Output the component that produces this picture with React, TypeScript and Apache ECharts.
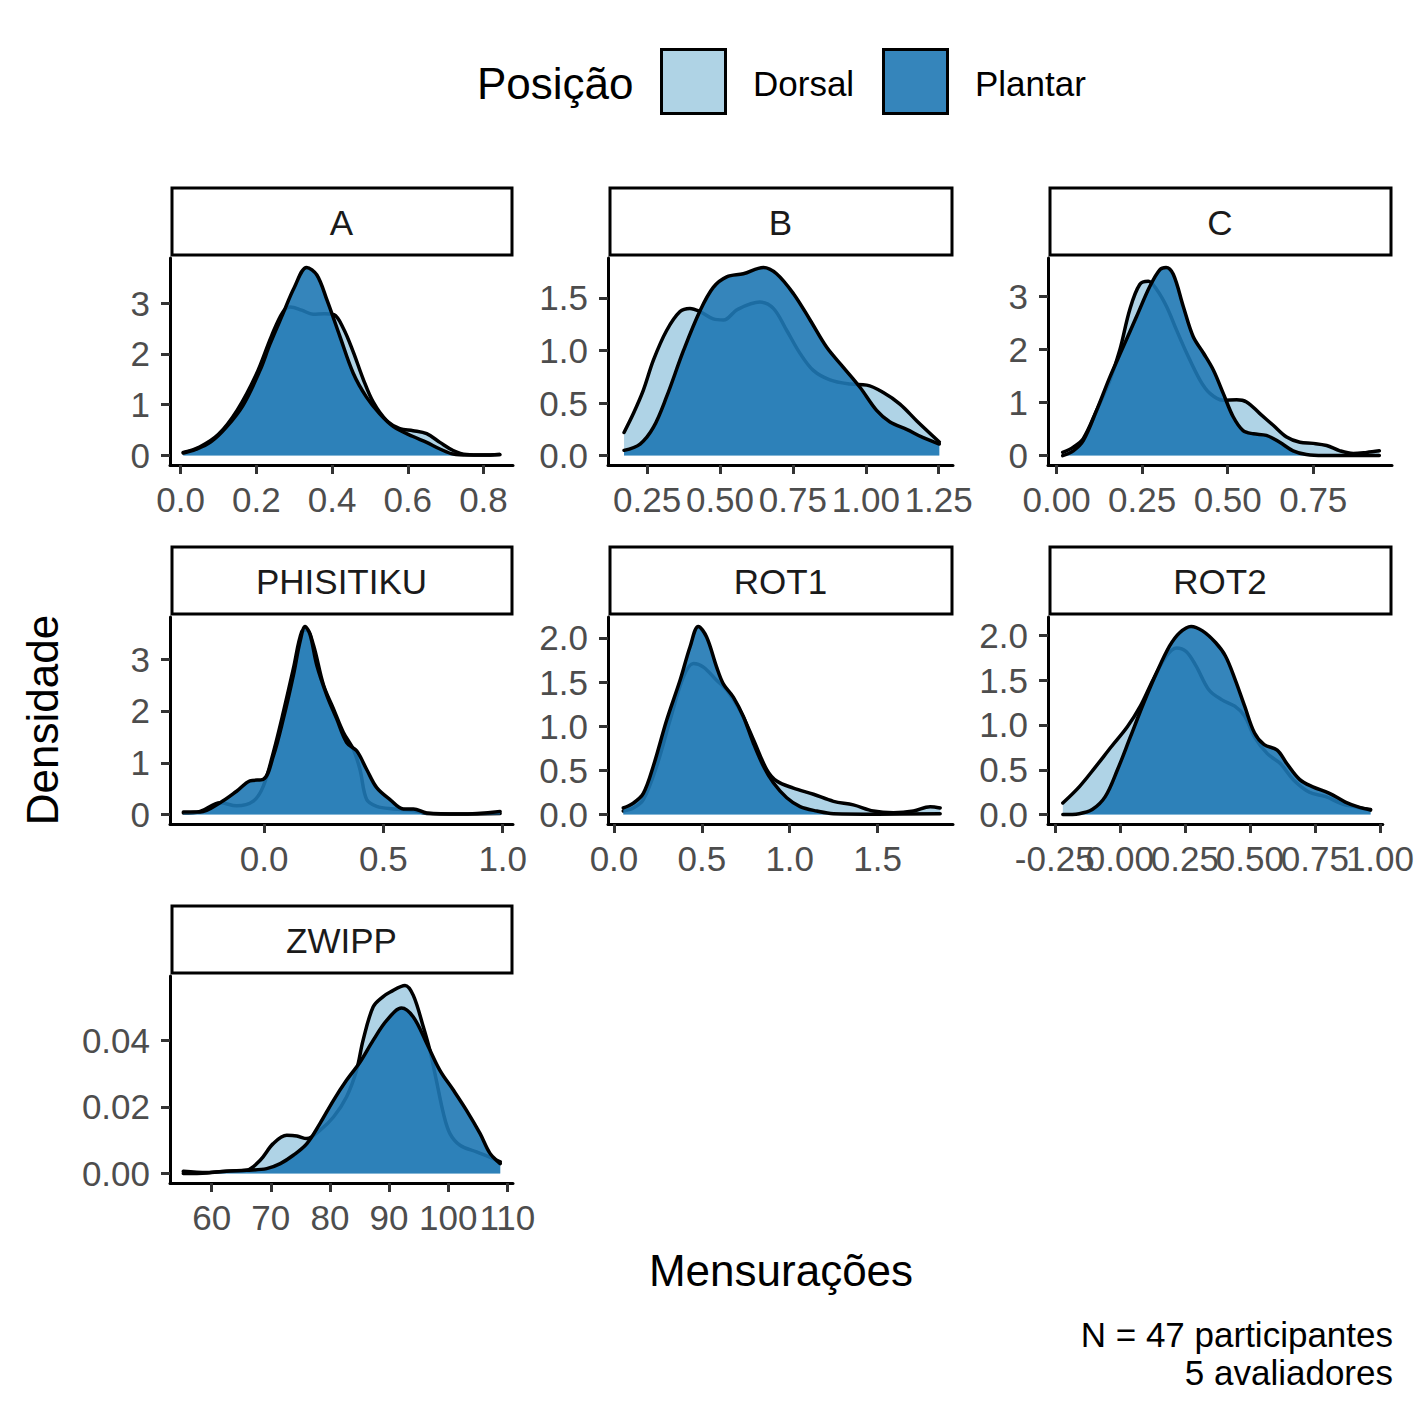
import React, { useEffect, useRef } from 'react';
import * as echarts from 'echarts';

const FONT = '"Liberation Sans", Arial, Helvetica, sans-serif';

const FACETS = ['A', 'B', 'C', 'PHISITIKU', 'ROT1', 'ROT2', 'ZWIPP'];
const GROUPS = ['Dorsal', 'Plantar'];
const GROUP_COLORS = ['#a6cee3', '#1f78b4'];
const LEGEND_TITLE = 'Posição';
const X_TITLE = 'Mensurações';
const Y_TITLE = 'Densidade';
const CAPTION = ['N = 47 participantes', '5 avaliadores'];

// ---- density curves: [x, density] ----
const A_DORSAL = [[0.007,0.06],[0.05,0.17],[0.1,0.42],[0.15,0.9],[0.2,1.6],[0.24,2.35],[0.27,2.82],[0.29,2.92],[0.32,2.86],[0.35,2.78],[0.38,2.79],[0.405,2.77],[0.43,2.5],[0.456,2.04],[0.482,1.51],[0.509,1.05],[0.544,0.69],[0.579,0.53],[0.614,0.49],[0.65,0.43],[0.685,0.26],[0.72,0.1],[0.755,0.02],[0.8,0.01],[0.843,0.02]];
const A_PLANTAR = [[0.007,0.05],[0.04,0.12],[0.08,0.27],[0.121,0.56],[0.165,0.99],[0.21,1.68],[0.236,2.19],[0.271,2.8],[0.3,3.3],[0.333,3.7],[0.36,3.55],[0.387,3.05],[0.421,2.34],[0.456,1.62],[0.491,1.15],[0.526,0.82],[0.562,0.57],[0.614,0.375],[0.65,0.26],[0.685,0.13],[0.72,0.03],[0.76,0.01],[0.8,0.01],[0.843,0.02]];

const B_DORSAL = [[0.171,0.22],[0.203,0.4],[0.237,0.62],[0.272,0.91],[0.317,1.19],[0.363,1.37],[0.397,1.4],[0.432,1.37],[0.477,1.3],[0.512,1.29],[0.56,1.39],[0.637,1.46],[0.683,1.4],[0.729,1.19],[0.775,0.97],[0.82,0.81],[0.877,0.72],[0.946,0.68],[1.003,0.67],[1.06,0.6],[1.117,0.49],[1.175,0.33],[1.252,0.13]];
const B_PLANTAR = [[0.171,0.05],[0.226,0.11],[0.272,0.27],[0.317,0.56],[0.375,1.0],[0.432,1.38],[0.477,1.6],[0.523,1.7],[0.58,1.73],[0.649,1.79],[0.694,1.73],[0.752,1.54],[0.809,1.29],[0.866,1.03],[0.923,0.84],[0.98,0.65],[1.037,0.43],[1.083,0.32],[1.14,0.25],[1.197,0.17],[1.252,0.11]];

const C_DORSAL = [[0.018,0.06],[0.049,0.16],[0.078,0.32],[0.117,0.85],[0.156,1.42],[0.185,1.99],[0.214,2.75],[0.243,3.22],[0.268,3.28],[0.292,3.13],[0.321,2.81],[0.35,2.37],[0.38,1.93],[0.419,1.42],[0.448,1.17],[0.487,1.04],[0.526,1.05],[0.555,1.01],[0.594,0.79],[0.633,0.57],[0.672,0.35],[0.711,0.25],[0.75,0.23],[0.789,0.19],[0.828,0.09],[0.867,0.04],[0.906,0.06],[0.943,0.09]];
const C_PLANTAR = [[0.018,0.0],[0.049,0.09],[0.078,0.28],[0.117,0.85],[0.156,1.48],[0.195,2.05],[0.234,2.62],[0.273,3.19],[0.302,3.5],[0.32,3.54],[0.341,3.41],[0.37,2.81],[0.399,2.24],[0.429,1.93],[0.458,1.61],[0.487,1.17],[0.516,0.73],[0.545,0.47],[0.575,0.41],[0.613,0.38],[0.652,0.25],[0.691,0.09],[0.73,0.02],[0.779,0.0],[0.943,0.0]];

const PHI_DORSAL = [[-0.338,0.03],[-0.268,0.06],[-0.184,0.23],[-0.115,0.17],[-0.045,0.26],[-0.003,0.55],[0.039,1.2],[0.081,1.98],[0.123,2.82],[0.158,3.53],[0.179,3.56],[0.207,3.27],[0.249,2.5],[0.291,2.04],[0.332,1.59],[0.374,1.26],[0.402,0.87],[0.43,0.29],[0.472,0.16],[0.542,0.11],[0.626,0.08],[0.682,0.02],[0.821,0.01],[0.989,0.02]];
const PHI_PLANTAR = [[-0.338,0.05],[-0.268,0.05],[-0.184,0.23],[-0.115,0.45],[-0.059,0.65],[-0.003,0.68],[0.039,1.13],[0.081,1.85],[0.123,2.69],[0.151,3.34],[0.172,3.63],[0.193,3.47],[0.221,2.88],[0.263,2.3],[0.304,1.85],[0.346,1.39],[0.388,1.23],[0.43,0.87],[0.472,0.52],[0.528,0.29],[0.584,0.11],[0.626,0.11],[0.682,0.03],[0.821,0.01],[0.989,0.06]];

const ROT1_DORSAL = [[0.053,0.04],[0.11,0.075],[0.167,0.17],[0.243,0.55],[0.319,1.07],[0.395,1.56],[0.452,1.71],[0.509,1.67],[0.584,1.52],[0.641,1.41],[0.717,1.18],[0.793,0.85],[0.869,0.51],[0.926,0.38],[1.021,0.3],[1.135,0.23],[1.249,0.15],[1.362,0.11],[1.476,0.04],[1.59,0.02],[1.704,0.04],[1.799,0.09],[1.856,0.075]];
const ROT1_PLANTAR = [[0.053,0.075],[0.11,0.13],[0.167,0.24],[0.224,0.55],[0.3,1.07],[0.376,1.52],[0.433,1.9],[0.48,2.13],[0.527,2.01],[0.584,1.67],[0.622,1.48],[0.679,1.33],[0.736,1.11],[0.793,0.81],[0.85,0.55],[0.907,0.36],[0.983,0.19],[1.059,0.09],[1.154,0.04],[1.249,0.01],[1.5,0.005],[1.856,0.01]];

const ROT2_DORSAL = [[-0.219,0.13],[-0.156,0.31],[-0.094,0.53],[-0.032,0.76],[0.029,0.98],[0.079,1.21],[0.129,1.51],[0.179,1.77],[0.218,1.86],[0.255,1.82],[0.293,1.66],[0.343,1.39],[0.393,1.28],[0.442,1.21],[0.48,1.1],[0.517,0.87],[0.567,0.68],[0.617,0.57],[0.667,0.39],[0.729,0.25],[0.792,0.2],[0.854,0.12],[0.916,0.08],[0.964,0.056]];
const ROT2_PLANTAR = [[-0.219,0.0],[-0.156,0.01],[-0.106,0.056],[-0.056,0.2],[-0.009,0.5],[0.041,0.87],[0.091,1.24],[0.141,1.58],[0.191,1.88],[0.23,2.03],[0.274,2.1],[0.318,2.05],[0.368,1.92],[0.406,1.77],[0.443,1.51],[0.48,1.21],[0.518,0.91],[0.555,0.78],[0.605,0.72],[0.642,0.57],[0.692,0.39],[0.742,0.31],[0.804,0.24],[0.867,0.14],[0.916,0.086],[0.964,0.05]];

const ZWIPP_DORSAL = [[55.2,0.0007],[59.2,0.0003],[62.5,0.0007],[65.9,0.001],[68.2,0.004],[70.4,0.009],[72.7,0.0115],[74.4,0.0113],[76.1,0.0105],[78.3,0.013],[80.6,0.017],[82.8,0.023],[84.5,0.031],[85.6,0.04],[87.3,0.05],[88.9,0.053],[90.2,0.0545],[92.7,0.0565],[94.1,0.0535],[95.8,0.044],[96.9,0.037],[98,0.028],[99.2,0.018],[100.3,0.012],[102,0.0085],[104.8,0.0065],[107.6,0.0045],[108.8,0.0035]];
const ZWIPP_PLANTAR = [[55.2,0.0],[59.2,0.0002],[62.5,0.0007],[65.9,0.001],[69.3,0.0015],[71.6,0.003],[73.8,0.0055],[76.1,0.009],[78.3,0.015],[80.6,0.022],[82.8,0.028],[85.1,0.0335],[87.3,0.04],[89.6,0.046],[92.1,0.0497],[94.1,0.047],[96.4,0.039],[98.6,0.031],[100.9,0.025],[103.1,0.019],[105.4,0.012],[107.1,0.006],[108.8,0.003]];

// ---- ticks and labels ----
const A_XTICKS = [0, 0.2, 0.4, 0.6, 0.8];
const A_XLABELS = ['0.0', '0.2', '0.4', '0.6', '0.8'];
const A_YTICKS = [0, 1, 2, 3];
const A_YLABELS = ['0', '1', '2', '3'];
const B_XTICKS = [0.25, 0.5, 0.75, 1.0, 1.25];
const B_XLABELS = ['0.25', '0.50', '0.75', '1.00', '1.25'];
const B_YTICKS = [0, 0.5, 1.0, 1.5];
const B_YLABELS = ['0.0', '0.5', '1.0', '1.5'];
const C_XTICKS = [0, 0.25, 0.5, 0.75];
const C_XLABELS = ['0.00', '0.25', '0.50', '0.75'];
const C_YTICKS = [0, 1, 2, 3];
const C_YLABELS = ['0', '1', '2', '3'];
const PHI_XTICKS = [0, 0.5, 1.0];
const PHI_XLABELS = ['0.0', '0.5', '1.0'];
const PHI_YTICKS = [0, 1, 2, 3];
const PHI_YLABELS = ['0', '1', '2', '3'];
const ROT1_XTICKS = [0, 0.5, 1.0, 1.5];
const ROT1_XLABELS = ['0.0', '0.5', '1.0', '1.5'];
const ROT1_YTICKS = [0, 0.5, 1.0, 1.5, 2.0];
const ROT1_YLABELS = ['0.0', '0.5', '1.0', '1.5', '2.0'];
const ROT2_XTICKS = [-0.25, 0, 0.25, 0.5, 0.75, 1.0];
const ROT2_XLABELS = ['-0.25', '0.00', '0.25', '0.50', '0.75', '1.00'];
const ROT2_YTICKS = [0, 0.5, 1.0, 1.5, 2.0];
const ROT2_YLABELS = ['0.0', '0.5', '1.0', '1.5', '2.0'];
const ZWIPP_XTICKS = [60, 70, 80, 90, 100, 110];
const ZWIPP_XLABELS = ['60', '70', '80', '90', '100', '110'];
const ZWIPP_YTICKS = [0, 0.02, 0.04];
const ZWIPP_YLABELS = ['0.00', '0.02', '0.04'];

// x-axis limits (ggplot's expanded range)
const A_XLIM = [-0.028, 0.878];
const B_XLIM = [0.116, 1.299];
const C_XLIM = [-0.025, 0.98];
const PHI_XLIM = [-0.394, 1.043];
const ROT1_XLIM = [-0.034, 1.929];
const ROT2_XLIM = [-0.276, 1.011];
const ZWIPP_XLIM = [52.95, 110.96];

const PANEL_DATA = [
  { d: A_DORSAL, p: A_PLANTAR, xt: A_XTICKS, xl: A_XLABELS, yt: A_YTICKS, yl: A_YLABELS, xlim: A_XLIM, stagger: false },
  { d: B_DORSAL, p: B_PLANTAR, xt: B_XTICKS, xl: B_XLABELS, yt: B_YTICKS, yl: B_YLABELS, xlim: B_XLIM, stagger: true },
  { d: C_DORSAL, p: C_PLANTAR, xt: C_XTICKS, xl: C_XLABELS, yt: C_YTICKS, yl: C_YLABELS, xlim: C_XLIM, stagger: false },
  { d: PHI_DORSAL, p: PHI_PLANTAR, xt: PHI_XTICKS, xl: PHI_XLABELS, yt: PHI_YTICKS, yl: PHI_YLABELS, xlim: PHI_XLIM, stagger: false },
  { d: ROT1_DORSAL, p: ROT1_PLANTAR, xt: ROT1_XTICKS, xl: ROT1_XLABELS, yt: ROT1_YTICKS, yl: ROT1_YLABELS, xlim: ROT1_XLIM, stagger: false },
  { d: ROT2_DORSAL, p: ROT2_PLANTAR, xt: ROT2_XTICKS, xl: ROT2_XLABELS, yt: ROT2_YTICKS, yl: ROT2_YLABELS, xlim: ROT2_XLIM, stagger: true },
  { d: ZWIPP_DORSAL, p: ZWIPP_PLANTAR, xt: ZWIPP_XTICKS, xl: ZWIPP_XLABELS, yt: ZWIPP_YTICKS, yl: ZWIPP_YLABELS, xlim: ZWIPP_XLIM, stagger: true },
];

// layout
const COL_LEFT = [170, 608, 1048];
const COL_RIGHT = [513, 953, 1392];
const ROW_TOP = [258, 617, 976];
const PLOT_H = 207;

function fmt(ticks: number[], labels: string[]) {
  return (v: number) => {
    const i = ticks.findIndex((t) => Math.abs(t - v) < 1e-9);
    return i >= 0 ? labels[i] : '';
  };
}

const AXIS_LABEL_BASE = {
  color: '#4d4d4d',
  fontSize: 35,
  fontFamily: FONT,
  hideOverlap: false,
  showMinLabel: true,
  showMaxLabel: true,
};

function buildOption() {
  const grid: any[] = [];
  const xAxis: any[] = [];
  const yAxis: any[] = [];
  const series: any[] = [];
  const graphic: any[] = [];
  const extraX: any[] = [];

  PANEL_DATA.forEach((pd, i) => {
    const col = i % 3;
    const row = Math.floor(i / 3);
    const left = COL_LEFT[col];
    const right = COL_RIGHT[col];
    const top = ROW_TOP[row];
    grid.push({ left, top, width: right - left, height: PLOT_H, containLabel: false });

    const ymaxData = Math.max(...pd.d.map((q) => q[1]), ...pd.p.map((q) => q[1]));
    // when neighbouring labels touch, alternate them over two coincident
    // bottom axes so the library does not drop any of them
    const mainLabels = pd.stagger ? pd.xt.filter((_, k) => k % 2 === 0) : pd.xt;
    const altLabels = pd.xt.filter((_, k) => k % 2 === 1);
    xAxis.push({
      type: 'value',
      gridIndex: i,
      position: 'bottom',
      min: pd.xlim[0],
      max: pd.xlim[1],
      axisLine: { show: true, onZero: false, lineStyle: { color: '#000', width: 3 } },
      axisTick: { show: true, length: 9, customValues: pd.xt, lineStyle: { color: '#333', width: 3 } },
      axisLabel: { ...AXIS_LABEL_BASE, customValues: mainLabels, formatter: fmt(pd.xt, pd.xl), margin: 17 },
      splitLine: { show: false },
    });
    if (pd.stagger) {
      extraX.push({
        type: 'value',
        gridIndex: i,
        position: 'bottom',
        offset: 0,
        min: pd.xlim[0],
        max: pd.xlim[1],
        axisLine: { show: false, onZero: false },
        axisTick: { show: false },
        axisLabel: { ...AXIS_LABEL_BASE, customValues: altLabels, formatter: fmt(pd.xt, pd.xl), margin: 17 },
        splitLine: { show: false },
      });
    }
    yAxis.push({
      type: 'value',
      gridIndex: i,
      position: 'left',
      min: -0.05 * ymaxData,
      max: 1.05 * ymaxData,
      axisLine: { show: true, onZero: false, lineStyle: { color: '#000', width: 3 } },
      axisTick: { show: true, length: 9, customValues: pd.yt, lineStyle: { color: '#333', width: 3 } },
      axisLabel: { ...AXIS_LABEL_BASE, customValues: pd.yt, formatter: fmt(pd.yt, pd.yl), margin: 20 },
      splitLine: { show: false },
    });

    [pd.d, pd.p].forEach((data, g) => {
      series.push({
        type: 'line',
        name: GROUPS[g],
        xAxisIndex: i,
        yAxisIndex: i,
        data,
        z: 2 + g,
        smooth: 0.35,
        showSymbol: false,
        symbol: 'none',
        lineStyle: { color: '#000', width: 3.5, join: 'round', cap: 'round' },
        areaStyle: { color: GROUP_COLORS[g], opacity: 0.9 },
        silent: true,
      });
    });

    // facet strip
    graphic.push({
      type: 'rect',
      shape: { x: left + 2, y: top - 70, width: right - left - 3, height: 67 },
      style: { fill: '#fff', stroke: '#000', lineWidth: 3 },
    });
    graphic.push({
      type: 'text',
      x: (left + right) / 2,
      y: top - 36,
      style: {
        text: FACETS[i],
        fill: '#1a1a1a',
        fontSize: 35,
        fontFamily: FONT,
        align: 'center',
        verticalAlign: 'middle',
      },
    });
  });

  // legend
  graphic.push({
    type: 'text', x: 477, y: 83,
    style: { text: LEGEND_TITLE, fill: '#000', fontSize: 44, fontFamily: FONT, align: 'left', verticalAlign: 'middle' },
  });
  const keyX = [661.5, 883.5];
  const labX = [753, 975];
  GROUPS.forEach((g, k) => {
    graphic.push({
      type: 'rect',
      shape: { x: keyX[k], y: 49.5, width: 64, height: 64 },
      style: { fill: GROUP_COLORS[k], opacity: 1, stroke: '#000', lineWidth: 3 },
    });
    graphic.push({
      type: 'rect',
      shape: { x: keyX[k] + 1.5, y: 51, width: 61, height: 61 },
      style: { fill: '#fff', opacity: 0.1 },
    });
    graphic.push({
      type: 'text', x: labX[k], y: 83,
      style: { text: g, fill: '#000', fontSize: 35, fontFamily: FONT, align: 'left', verticalAlign: 'middle' },
    });
  });

  // axis titles
  graphic.push({
    type: 'text', x: 781, y: 1270,
    style: { text: X_TITLE, fill: '#000', fontSize: 44, fontFamily: FONT, align: 'center', verticalAlign: 'middle' },
  });
  graphic.push({
    type: 'text', x: 42, y: 720, rotation: Math.PI / 2,
    style: { text: Y_TITLE, fill: '#000', fontSize: 44, fontFamily: FONT, align: 'center', verticalAlign: 'middle' },
  });
  // caption
  CAPTION.forEach((c, k) => {
    graphic.push({
      type: 'text', x: 1393, y: 1334 + k * 38,
      style: { text: c, fill: '#000', fontSize: 35, fontFamily: FONT, align: 'right', verticalAlign: 'middle' },
    });
  });

  return {
    animation: false,
    backgroundColor: '#fff',
    textStyle: { fontFamily: FONT },
    grid,
    xAxis: [...xAxis, ...extraX],
    yAxis,
    series,
    graphic,
  };
}

export default function App() {
  const ref = useRef<HTMLDivElement>(null);
  useEffect(() => {
    if (!ref.current) return;
    const chart = echarts.init(ref.current, undefined, { renderer: 'svg' });
    chart.setOption(buildOption() as any);
    return () => chart.dispose();
  }, []);
  return (
    <div
      ref={ref}
      style={{ position: 'absolute', left: 0, top: 0, width: 1417, height: 1417, background: '#fff' }}
    />
  );
}
